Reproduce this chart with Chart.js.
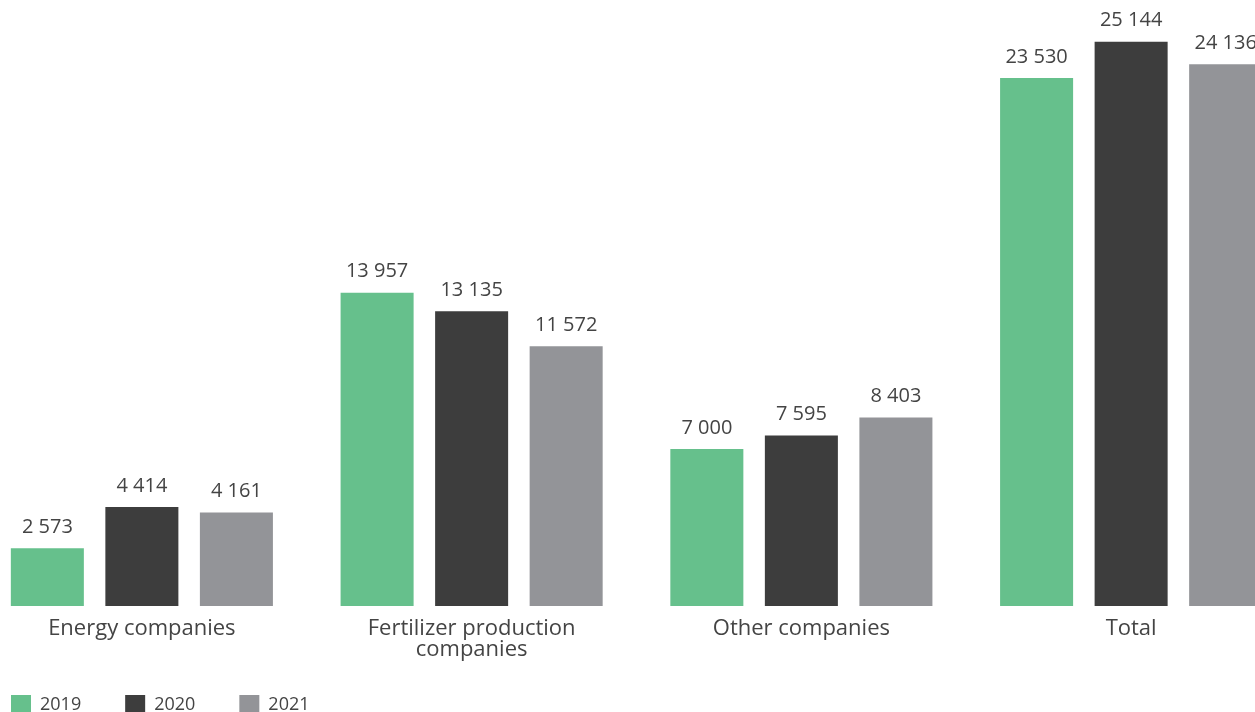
<!DOCTYPE html>
<html>
<head>
<meta charset="utf-8">
<script src="https://cdn.jsdelivr.net/npm/chart.js@4/dist/chart.umd.min.js"></script>
<style>
  html, body { margin: 0; padding: 0; background: #fff; overflow: hidden; }
  #wrap { position: absolute; left: -23px; top: 0; width: 1319px; height: 740px; }
</style>
</head>
<body>
<div id="wrap"><canvas id="chart"></canvas></div>
<script>
// Data
const categories = ['Energy companies', ['Fertilizer production', 'companies'], 'Other companies', 'Total'];
const years = ['2019', '2020', '2021'];
const values2019 = [2573, 13957, 7000, 23530];
const values2020 = [4414, 13135, 7595, 25144];
const values2021 = [4161, 11572, 8403, 24136];
const colors = ['#66c08c', '#3d3d3d', '#939498'];

const textColor = '#444444';
const fontFamily = '"Open Sans", sans-serif';

// format 25144 -> "25 144"
const fmt = v => String(v).replace(/\B(?=(\d{3})+(?!\d))/g, ' ');

// draw the value above every bar
const valueLabels = {
  id: 'valueLabels',
  afterDatasetsDraw(chart) {
    const ctx = chart.ctx;
    ctx.save();
    ctx.font = '20px ' + fontFamily;
    ctx.fillStyle = textColor;
    ctx.textAlign = 'center';
    ctx.textBaseline = 'middle';
    chart.data.datasets.forEach((ds, i) => {
      chart.getDatasetMeta(i).data.forEach((bar, j) => {
        ctx.fillText(fmt(ds.data[j]), bar.x, bar.y - 21);
      });
    });
    ctx.restore();
  }
};

// nudge the legend to the left edge and a bit up
const legendShift = {
  id: 'legendShift',
  afterLayout(chart) {
    const lg = chart.legend;
    lg.left -= 10;
    lg.right -= 10;
    lg.top -= 15;
    lg.bottom -= 15;
  }
};

new Chart(document.getElementById('chart'), {
  type: 'bar',
  data: {
    labels: categories,
    datasets: [
      { label: years[0], data: values2019, backgroundColor: colors[0] },
      { label: years[1], data: values2020, backgroundColor: colors[1] },
      { label: years[2], data: values2021, backgroundColor: colors[2] }
    ]
  },
  options: {
    responsive: true,
    maintainAspectRatio: false,
    animation: false,
    layout: { padding: 0 },
    datasets: {
      bar: { categoryPercentage: 0.86, barPercentage: 0.7725, borderWidth: 0 }
    },
    plugins: {
      legend: {
        position: 'bottom',
        align: 'start',
        labels: {
          boxWidth: 20,
          boxHeight: 20,
          padding: 44,
          color: textColor,
          font: { family: fontFamily, size: 18 }
        }
      },
      tooltip: { enabled: false }
    },
    scales: {
      y: { display: false, min: 0, max: 27000 },
      x: {
        grid: { display: false, drawTicks: false },
        border: { display: false },
        ticks: {
          color: textColor,
          padding: 12,
          font: { family: fontFamily, size: 22, lineHeight: 0.97 }
        },
        afterFit: scale => { scale.height = 60; }
      }
    }
  },
  plugins: [valueLabels, legendShift]
});
</script>
</body>
</html>
